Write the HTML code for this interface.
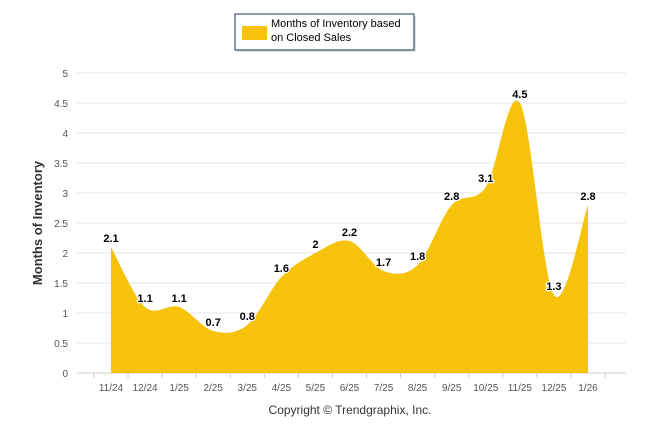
<!DOCTYPE html>
<html><head><meta charset="utf-8"><style>
body{margin:0;background:#fff;font-family:"Liberation Sans",sans-serif}
svg{display:block}
</style></head><body>
<svg id="chart" width="646" height="434">
<g>
<rect x="237" y="16" width="179" height="36" fill="#dfe3ea"/>
<rect x="235" y="14" width="179" height="36" fill="#fff" stroke="#1f2f57" stroke-width="1"/>
<rect x="242" y="26" width="25" height="14" fill="#f7c30a"/>
<text x="271" y="27" font-size="11" fill="#000">Months of Inventory based</text>
<text x="271" y="41" font-size="11" fill="#000">on Closed Sales</text>
</g>
<g id="grid"></g>
<g id="area"></g>
<g id="labels"></g>
<text transform="translate(42,223) rotate(-90)" text-anchor="middle" font-size="13" font-weight="bold" fill="#333">Months of Inventory</text>
<text x="350" y="414" text-anchor="middle" font-size="12" fill="#333">Copyright © Trendgraphix, Inc.</text>
</svg>
<script>
const categories=["11/24","12/24","1/25","2/25","3/25","4/25","5/25","6/25","7/25","8/25","9/25","10/25","11/25","12/25","1/26"];
const values=[2.1,1.1,1.1,0.7,0.8,1.6,2,2.2,1.7,1.8,2.8,3.1,4.5,1.3,2.8];
const yTicks=[0,0.5,1,1.5,2,2.5,3,3.5,4,4.5,5];
{
const NS="http://www.w3.org/2000/svg";
const plotLeft=77,plotRight=626,plotTop=73,plotBottom=373,yMax=5;
const bandW=34.07,bandL=111-bandW/2;
function xs(i){return bandL+bandW*(i+0.5);}
function ys(v){return plotBottom-(v/yMax)*(plotBottom-plotTop);}
function mk(tag,attrs,parent){const e=document.createElementNS(NS,tag);for(const k in attrs)e.setAttribute(k,attrs[k]);parent.appendChild(e);return e;}
const grid=document.getElementById('grid');
yTicks.forEach(t=>{
  const l=mk('line',{x1:plotLeft,x2:plotRight,y1:ys(t),y2:ys(t),stroke:t===0?'#ccc':'#e6e6e6','stroke-width':1},grid);
  
  
  const tx=mk('text',{x:68,y:ys(t)+4,'text-anchor':'end','font-size':'10',fill:'#555'},grid);
  tx.textContent=t;
  
  
});
for(let i=0;i<=categories.length;i++){
  const x=bandL+bandW*i;
  const tk=mk('line',{x1:x,x2:x,y1:plotBottom,y2:plotBottom+5,stroke:'#ccc'},grid);
  
  
}
categories.forEach((c,i)=>{
  const tx=mk('text',{x:xs(i),y:391,'text-anchor':'middle','font-size':'10',fill:'#555'},grid);
  tx.textContent=c;
  
  
});
const pts=values.map((v,i)=>[xs(i),ys(v)]);
let d=`M${pts[0][0]},${plotBottom}L${pts[0][0]},${pts[0][1]}`;
const n=pts.length;
for(let i=0;i<n-1;i++){
  const p0=pts[Math.max(i-1,0)],p1=pts[i],p2=pts[i+1],p3=pts[Math.min(i+2,n-1)];
  const c1=[p1[0]+(p2[0]-p0[0])/6,p1[1]+(p2[1]-p0[1])/6];
  const c2=[p2[0]-(p3[0]-p1[0])/6,p2[1]-(p3[1]-p1[1])/6];
  d+=`C${c1[0]},${c1[1]} ${c2[0]},${c2[1]} ${p2[0]},${p2[1]}`;
}
d+=`L${pts[n-1][0]},${plotBottom}Z`;
const area=mk('path',{d:d,fill:'#f7c30a'},document.getElementById('area'));


values.forEach((v,i)=>{
  const tx=mk('text',{x:xs(i),y:ys(v)-5,'text-anchor':'middle','font-size':'11','font-weight':'bold',fill:'#000',stroke:'#fff','stroke-width':'2.5','paint-order':'stroke'},document.getElementById('labels'));
  tx.textContent=v;
  
  
});
}
</script>
</body></html>
